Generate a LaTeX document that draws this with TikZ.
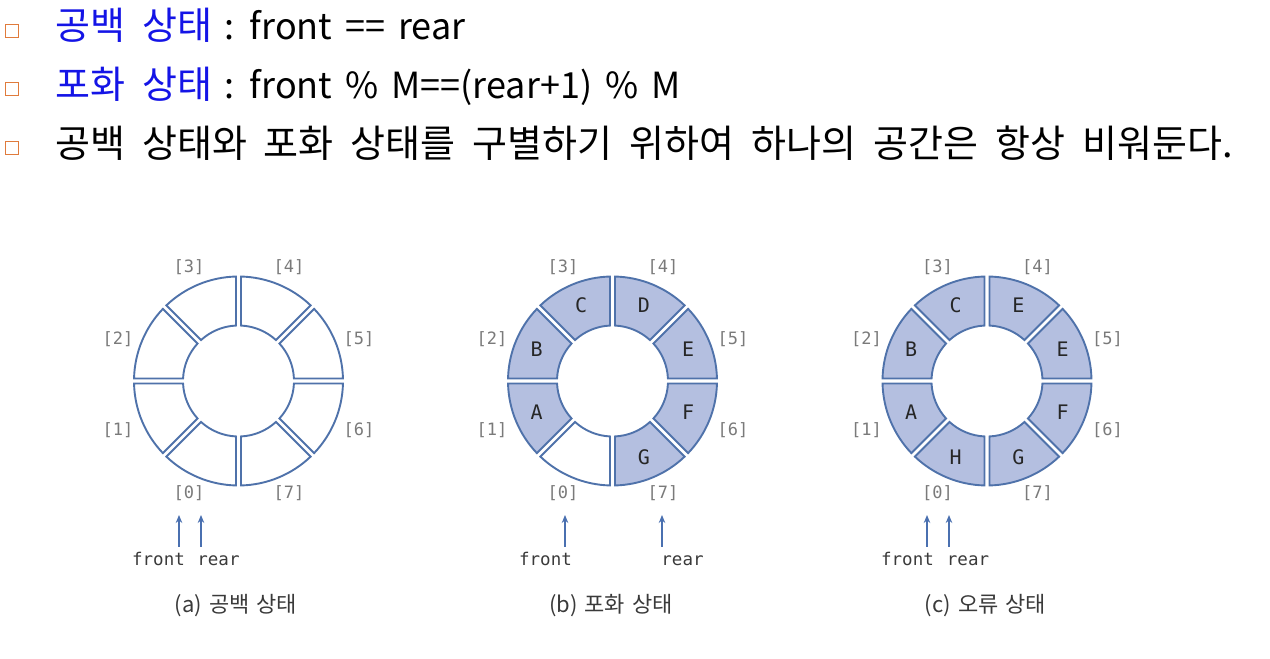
\documentclass[tikz,border=0pt]{standalone}
\usepackage{fontspec}
\newfontfamily\kr{Noto Sans CJK KR}
\newfontfamily\mono{DejaVu Sans Mono}
\usetikzlibrary{arrows.meta}
\definecolor{ringline}{HTML}{4F72AA}
\definecolor{ringfill}{HTML}{B4BFE0}
\definecolor{keyblue}{HTML}{1414E6}
\definecolor{bulletor}{HTML}{E07B3C}
\definecolor{idxgray}{HTML}{7A7A7A}
\definecolor{arrowblue}{HTML}{4A70B0}
\definecolor{captext}{HTML}{3A3A3A}
\newcommand\lat[1]{{\fontsize{36}{36}\selectfont\spaceskip 13pt\relax #1}}
\newcommand\krlinefont{\kr\fontsize{38}{38}\selectfont\spaceskip 17pt\relax}
\newcommand\krcapfont{\kr\fontsize{22}{22}\selectfont\spaceskip 7pt\relax}
\newcommand\qseg[4]{% #1 ring prefix, #2 index, #3 fill, #4 letter
  \pgfmathsetmacro\qta{225-45*#2}%
  \pgfmathsetmacro\qtb{270-45*#2}%
  \pgfmathsetmacro\qtm{247.5-45*#2}%
  \pgfmathsetmacro\qoa{\qta+1.37}%
  \pgfmathsetmacro\qob{\qtb-1.37}%
  \pgfmathsetmacro\qia{\qta+2.58}%
  \pgfmathsetmacro\qib{\qtb-2.58}%
  \draw[segline, fill=#3] (\qoa:104.5) arc[start angle=\qoa, end angle=\qob, radius=104.5]
     -- (\qib:55.5) arc[start angle=\qib, end angle=\qia, radius=55.5] -- cycle;
  \node[letter] (#1-l#2) at (\qtm:82) {#4};
}
\newcommand\qidx[1]{% #1 ring prefix
  \node[idx] (#1-i0) at (-49.5,-112) {[0]};
  \node[idx] (#1-i1) at (-120.5,-49) {[1]};
  \node[idx] (#1-i2) at (-120.5,42) {[2]};
  \node[idx] (#1-i3) at (-49.5,114) {[3]};
  \node[idx] (#1-i4) at (50.5,114) {[4]};
  \node[idx] (#1-i5) at (120.5,42) {[5]};
  \node[idx] (#1-i6) at (120.5,-49) {[6]};
  \node[idx] (#1-i7) at (50.5,-112) {[7]};
}
\begin{document}
\begin{tikzpicture}[x=1pt,y=1pt,
  segline/.style={draw=ringline, line width=1.9pt, line join=miter},
  letter/.style={inner sep=0pt, font=\mono\fontsize{20}{20}\selectfont, text=black!85},
  idx/.style={inner sep=0pt, font=\mono\fontsize{17}{17}\selectfont, text=idxgray},
  ptr/.style={inner sep=0pt, font=\mono\fontsize{17.5}{17.5}\selectfont, text=captext, anchor=base},
  qarrow/.style={draw=arrowblue, line width=1.2pt, -{Stealth[length=8pt,width=6.5pt]}},
  caption/.style={inner sep=0pt, font=\krcapfont, text=captext},
  line/.style={inner sep=0pt, anchor=base west, font=\krlinefont},
  bullet/.style={draw=bulletor, line width=1.6pt, minimum size=13pt, inner sep=0pt}]
\useasboundingbox (0,0) rectangle (1270,659);
% top text
\node[bullet] (b1) at (12,628) {};
\node[bullet] (b2) at (12,570) {};
\node[bullet] (b3) at (12,511) {};
\node[line] (t1) at (55,619) {\textcolor{keyblue}{공백 상태}\hspace{-5pt} \lat{: front == rear}};
\node[line] (t2) at (55,560) {\textcolor{keyblue}{포화 상태}\hspace{-5pt} \lat{: front \% M==(rear+1) \% M}};
\node[line] (t3) at (55,501) {공백 상태와 포화 상태를 구별하기 위하여 하나의 공간은 항상 비워둔다.};
% ring (a)
\begin{scope}[shift={(238.5,278)}]
  \foreach \i in {0,...,7} {\qseg{a}{\i}{white}{}}
  \qidx{a}
  \node[ptr] (a-front) at (-80,-185) {front};
  \node[ptr] (a-rear) at (-20,-185) {rear};
  \coordinate (a-ft) at (-59.5,-134);
  \coordinate (a-rt) at (-37.5,-134);
  \draw[qarrow] (a-ft |- a-front.north) ++(0,6) -- (a-ft);
  \draw[qarrow] (a-rt |- a-front.north) ++(0,6) -- (a-rt);
  \node[caption] (a-cap) at (-2.5,-225) {(a) 공백 상태};
\end{scope}
% ring (b)
\begin{scope}[shift={(612.5,278)}]
  \qseg{b}{0}{white}{}
  \foreach \i/\t in {1/A,2/B,3/C,4/D,5/E,6/F,7/G} {\qseg{b}{\i}{ringfill}{\t}}
  \qidx{b}
  \node[ptr] (b-front) at (-67,-185) {front};
  \node[ptr] (b-rear) at (70,-185) {rear};
  \coordinate (b-ft) at (-47.5,-134);
  \coordinate (b-rt) at (49.5,-134);
  \draw[qarrow] (b-ft |- b-front.north) ++(0,6) -- (b-ft);
  \draw[qarrow] (b-rt |- b-front.north) ++(0,6) -- (b-rt);
  \node[caption] (b-cap) at (-1.5,-225) {(b) 포화 상태};
\end{scope}
% ring (c)
\begin{scope}[shift={(987,278)}]
  \foreach \i/\t in {0/H,1/A,2/B,3/C,4/E,5/E,6/F,7/G} {\qseg{c}{\i}{ringfill}{\t}}
  \qidx{c}
  \node[ptr] (c-front) at (-79.5,-185) {front};
  \node[ptr] (c-rear) at (-19,-185) {rear};
  \coordinate (c-ft) at (-60,-134);
  \coordinate (c-rt) at (-38,-134);
  \draw[qarrow] (c-ft |- c-front.north) ++(0,6) -- (c-ft);
  \draw[qarrow] (c-rt |- c-front.north) ++(0,6) -- (c-rt);
  \node[caption] (c-cap) at (-1.5,-225) {(c) 오류 상태};
\end{scope}
\end{tikzpicture}
\end{document}
